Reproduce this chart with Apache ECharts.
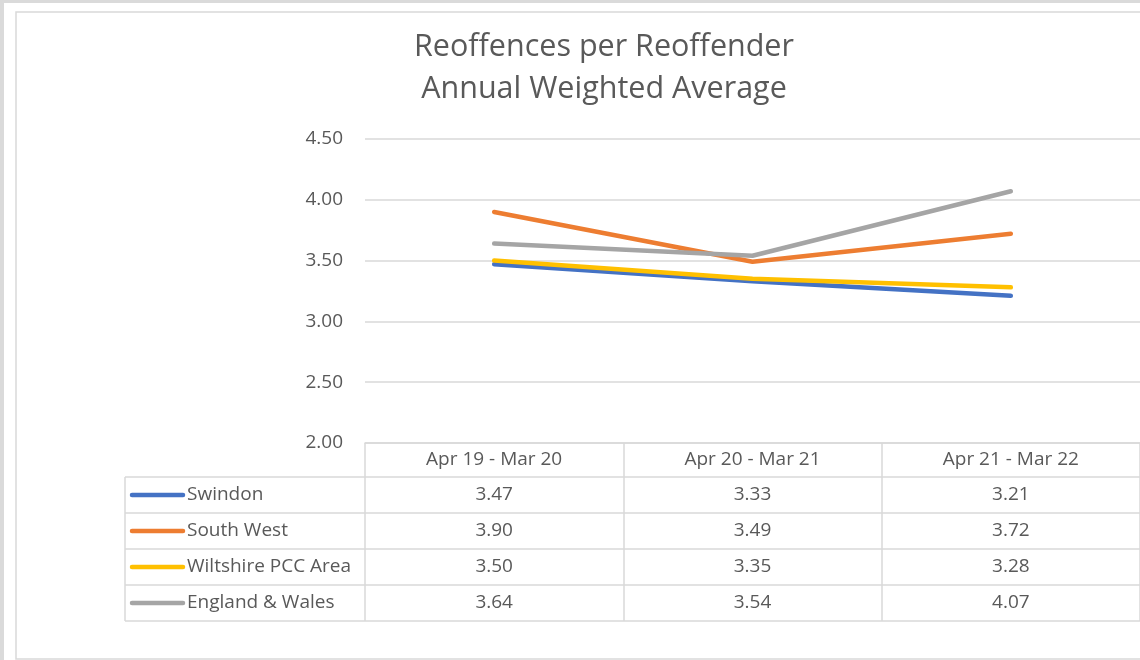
<!DOCTYPE html>
<html>
<head>
<meta charset="utf-8">
<script src="https://cdn.jsdelivr.net/npm/echarts@6/dist/echarts.min.js"></script>
<style>
  html, body { margin: 0; padding: 0; background: #fff; }
  #chart { width: 1140px; height: 660px; }
</style>
</head>
<body>
<div id="chart"></div>
<script>
const periods = ['Apr 19 - Mar 20', 'Apr 20 - Mar 21', 'Apr 21 - Mar 22'];
const seriesNames = ['Swindon', 'South West', 'Wiltshire PCC Area', 'England & Wales'];
const swindon = [3.47, 3.33, 3.21];
const southWest = [3.90, 3.49, 3.72];
const wiltshire = [3.50, 3.35, 3.28];
const englandWales = [3.64, 3.54, 4.07];
const colors = ['#4472C4', '#ED7D31', '#FFC000', '#A5A5A5'];
const allValues = [swindon, southWest, wiltshire, englandWales];

const textColor = '#595959';
const lineColor = '#D9D9D9';
const font = 'Open Sans';

// table layout
const tableTop = 477;
const rowH = 36;
const tableLeft = 125;
const keyX1 = 132, keyX2 = 183, labelX = 187;

const chartDom = document.getElementById('chart');
const myChart = echarts.init(chartDom);

const option = {
  animation: false,
  textStyle: { fontFamily: font },
  title: {
    text: 'Reoffences per Reoffender\nAnnual Weighted Average',
    left: 599,
    top: 21,
    textAlign: 'center',
    textStyle: {
      fontFamily: font,
      fontSize: 30.5,
      fontWeight: 'normal',
      color: textColor,
      lineHeight: 42
    }
  },
  grid: {
    left: 365,
    right: -3,
    top: 139,
    bottom: 217
  },
  xAxis: {
    type: 'category',
    data: periods,
    boundaryGap: true,
    axisLine: { show: true, lineStyle: { color: lineColor, width: 1.5 } },
    axisTick: { show: true, length: 178, lineStyle: { color: lineColor, width: 1.5 } },
    axisLabel: {
      color: textColor,
      fontSize: 19,
      fontFamily: font,
      margin: 17,
      verticalAlign: 'middle'
    }
  },
  yAxis: {
    type: 'value',
    min: 2,
    max: 4.5,
    interval: 0.5,
    axisLine: { show: false },
    axisTick: { show: false },
    splitLine: { lineStyle: { color: lineColor, width: 1.5 } },
    axisLabel: {
      color: textColor,
      fontSize: 19,
      fontFamily: font,
      margin: 22,
      formatter: v => v.toFixed(2)
    }
  },
  series: seriesNames.map((name, i) => ({
    name: name,
    type: 'line',
    data: allValues[i],
    symbol: 'none',
    lineStyle: { color: colors[i], width: 4.5, cap: 'round', join: 'round' },
    itemStyle: { color: colors[i] }
  }))
};

myChart.setOption(option);

// data table under the axis, built from the same arrays
const rightEdge = 1143;
const graphics = [];

// window strips and chart border
graphics.push({ type: 'rect', shape: { x: 0, y: 0, width: 1140, height: 3 }, style: { fill: '#DADADA' }, silent: true });
graphics.push({ type: 'rect', shape: { x: 0, y: 0, width: 4, height: 660 }, style: { fill: '#DADADA' }, silent: true });
graphics.push({ type: 'rect', shape: { x: 16, y: 12, width: 1200, height: 647 }, style: { fill: 'none', stroke: lineColor, lineWidth: 1.5 }, silent: true });

// row lines
for (let r = 0; r <= seriesNames.length; r++) {
  const y = tableTop + r * rowH;
  graphics.push({
    type: 'line',
    shape: { x1: tableLeft, y1: y, x2: rightEdge, y2: y },
    style: { stroke: lineColor, lineWidth: 1.5 },
    silent: true
  });
}
graphics.push({
  type: 'line',
  shape: { x1: tableLeft, y1: tableTop, x2: tableLeft, y2: tableTop + rowH * seriesNames.length },
  style: { stroke: lineColor, lineWidth: 1.5 },
  silent: true
});

seriesNames.forEach((name, r) => {
  const cy = tableTop + r * rowH + rowH / 2;
  graphics.push({
    type: 'line',
    shape: { x1: keyX1, y1: cy, x2: keyX2, y2: cy },
    style: { stroke: colors[r], lineWidth: 4.5, lineCap: 'round' },
    silent: true
  });
  graphics.push({
    type: 'text',
    x: labelX,
    y: cy,
    style: { text: name, fill: textColor, font: '19px "Open Sans"', textAlign: 'left', textVerticalAlign: 'middle' },
    silent: true
  });
  allValues[r].forEach((v, c) => {
    const px = myChart.convertToPixel({ xAxisIndex: 0 }, periods[c]);
    graphics.push({
      type: 'text',
      x: px,
      y: cy,
      style: { text: v.toFixed(2), fill: textColor, font: '19px "Open Sans"', textAlign: 'center', textVerticalAlign: 'middle' },
      silent: true
    });
  });
});

myChart.setOption({ graphic: graphics });

window.addEventListener('resize', () => myChart.resize());
</script>
</body>
</html>
